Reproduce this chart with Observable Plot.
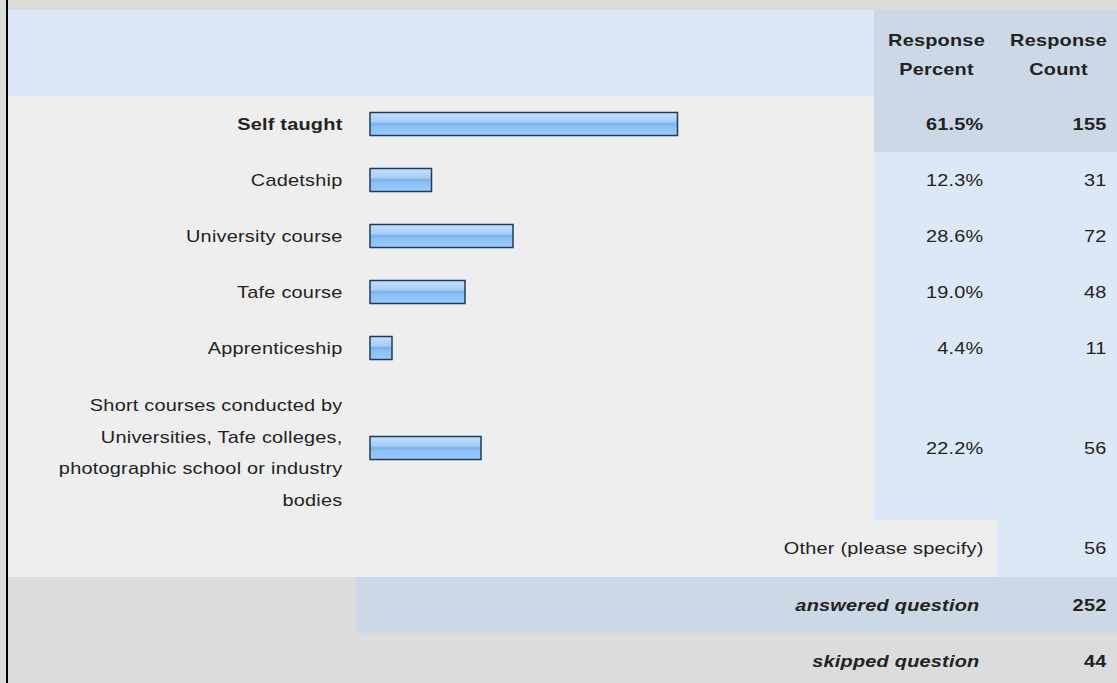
<!DOCTYPE html>
<html>
<head>
<meta charset="utf-8">
<script src="https://cdn.jsdelivr.net/npm/d3@7"></script>
<script src="https://cdn.jsdelivr.net/npm/@observablehq/plot@0.6"></script>
<style>
  html, body { margin: 0; padding: 0; background: #dcdcdc; }
  #chart { width: 1117px; height: 683px; overflow: hidden; }
</style>
</head>
<body>
<div id="chart"></div>
<script>
// ---- data ----
const categories = [
  "Self taught",
  "Cadetship",
  "University course",
  "Tafe course",
  "Apprenticeship",
  "Short courses conducted by\nUniversities, Tafe colleges,\nphotographic school or industry\nbodies"
];
const percents = [61.5, 12.3, 28.6, 19.0, 4.4, 22.2];
const counts = [155, 31, 72, 48, 11, 56];
const headers = ["Response\nPercent", "Response\nCount"];
const otherLabel = "Other (please specify)";
const otherCount = 56;
const summaryLabels = ["answered question", "skipped question"];
const summaryValues = [252, 44];

// ---- layout (pixels) ----
const W = 1117, H = 683;
const ZERO = 370, PXPER = 5;              // bar origin and px per percent point
const X = px => (px - ZERO) / PXPER;      // pixel -> x-domain value
const rowTop = [96, 152, 208, 264, 320, 376];
const rowBot = [152, 208, 264, 320, 376, 520];
const rowMid = rowTop.map((t, i) => (t + rowBot[i]) / 2);
const BAR_H = 23;
const FS = 17;
const ink = "#222";

const bg = [
  {x1: 0, x2: W, y1: 0, y2: H, c: "#dcdcdc"},
  {x1: 8, x2: 874, y1: 10, y2: 96, c: "#dce8f6"},
  {x1: 874, x2: W, y1: 10, y2: 96, c: "#ccd8e6"},
  {x1: 8, x2: 874, y1: 96, y2: 520, c: "#eeeeee"},
  {x1: 874, x2: W, y1: 96, y2: 152, c: "#ccd8e6"},
  {x1: 874, x2: W, y1: 152, y2: 520, c: "#dce8f6"},
  {x1: 8, x2: 997, y1: 520, y2: 577, c: "#eeeeee"},
  {x1: 997, x2: W, y1: 520, y2: 577, c: "#dce8f6"},
  {x1: 8, x2: 356, y1: 577, y2: 633, c: "#dcdcdc"},
  {x1: 356, x2: W, y1: 577, y2: 633, c: "#ccd8e6"},
  {x1: 8, x2: W, y1: 633, y2: H, c: "#dcdcdc"},
  {x1: 6, x2: 8, y1: 0, y2: H, c: "#000000"}
].map(d => ({...d, x1: X(d.x1), x2: X(d.x2)}));

const rows = categories.map((c, i) => ({
  label: c, pct: percents[i], count: counts[i], mid: rowMid[i], bold: i === 0, multi: c.includes("\n")
}));

const LABEL_X = X(342), PCT_X = X(983), CNT_X = X(1106);

const texts = [];
rows.forEach(r => {
  if (!r.multi) texts.push({x: LABEL_X, y: r.mid, t: r.label, w: r.bold ? "bold" : "normal", s: "normal"});
  texts.push({x: PCT_X, y: r.mid, t: r.pct.toFixed(1) + "%", w: r.bold ? "bold" : "normal", s: "normal"});
  texts.push({x: CNT_X, y: r.mid, t: String(r.count), w: r.bold ? "bold" : "normal", s: "normal"});
});
texts.push({x: PCT_X, y: 548.5, t: otherLabel, w: "normal", s: "normal"});
texts.push({x: CNT_X, y: 548.5, t: String(otherCount), w: "normal", s: "normal"});
[605, 661].forEach((y, i) => {
  texts.push({x: X(979), y, t: summaryLabels[i], w: "bold", s: "italic"});
  texts.push({x: CNT_X, y, t: String(summaryValues[i]), w: "bold", s: "normal"});
});
const multiLabels = rows.filter(r => r.multi).map(r => ({x: LABEL_X, y: r.mid, t: r.label}));

const headerRows = headers.map((h, i) => ({x: X(i === 0 ? 936 : 1058), y: 51, t: h}));

const plot = Plot.plot({
  width: W, height: H,
  margin: 0,
  style: {fontFamily: "'Liberation Sans', Arial, sans-serif", background: "#dcdcdc", color: ink, letterSpacing: "0.2px"},
  x: {domain: [X(0), X(W)], range: [0, W], axis: null},
  y: {domain: [0, H], range: [0, H], axis: null},
  marks: [
    Plot.rect(bg, {x1: "x1", x2: "x2", y1: "y1", y2: "y2", fill: "c"}),
    Plot.rect(rows, {
      x1: 0, x2: "pct",
      y1: d => d.mid - BAR_H / 2, y2: d => d.mid + BAR_H / 2,
      fill: "url(#barGrad)", stroke: "#233a5e", strokeWidth: 1.5
    }),
    Plot.text(texts.filter(d => d.w === "normal" && d.s === "normal"), {
      x: "x", y: "y", text: "t", textAnchor: "end", fontSize: FS, fill: ink
    }),
    Plot.text(multiLabels, {
      x: "x", y: "y", text: "t", textAnchor: "end", fontSize: FS, fill: ink, lineHeight: 1.86
    }),
    Plot.text(texts.filter(d => d.w === "bold" && d.s === "normal"), {
      x: "x", y: "y", text: "t", textAnchor: "end", fontSize: FS, fontWeight: "bold", fill: ink
    }),
    Plot.text(texts.filter(d => d.s === "italic"), {
      x: "x", y: "y", text: "t", textAnchor: "end", fontSize: FS, fontWeight: "bold", fontStyle: "italic", fill: ink
    }),
    Plot.text(headerRows, {
      x: "x", y: "y", text: "t", textAnchor: "middle", fontSize: FS, fontWeight: "bold", fill: ink, lineHeight: 1.72
    })
  ]
});

// gradient for the bars
const NS = "http://www.w3.org/2000/svg";
const defs = document.createElementNS(NS, "defs");
const grad = document.createElementNS(NS, "linearGradient");
grad.setAttribute("id", "barGrad");
grad.setAttribute("x1", "0"); grad.setAttribute("y1", "0");
grad.setAttribute("x2", "0"); grad.setAttribute("y2", "1");
[["0", "#c6e1fc"], ["0.4", "#a4cdf8"], ["0.5", "#7aafea"], ["0.62", "#8ac0f5"], ["1", "#9ccbf9"]].forEach(([o, c]) => {
  const s = document.createElementNS(NS, "stop");
  s.setAttribute("offset", o); s.setAttribute("stop-color", c);
  grad.appendChild(s);
});
defs.appendChild(grad);
plot.insertBefore(defs, plot.firstChild);

// widen glyphs horizontally like the reference rendering
plot.querySelectorAll("text").forEach(t => {
  const tr = t.getAttribute("transform");
  if (tr) t.setAttribute("transform", tr + " scale(1.17,1)");
});

document.getElementById("chart").appendChild(plot);
</script>
</body>
</html>
